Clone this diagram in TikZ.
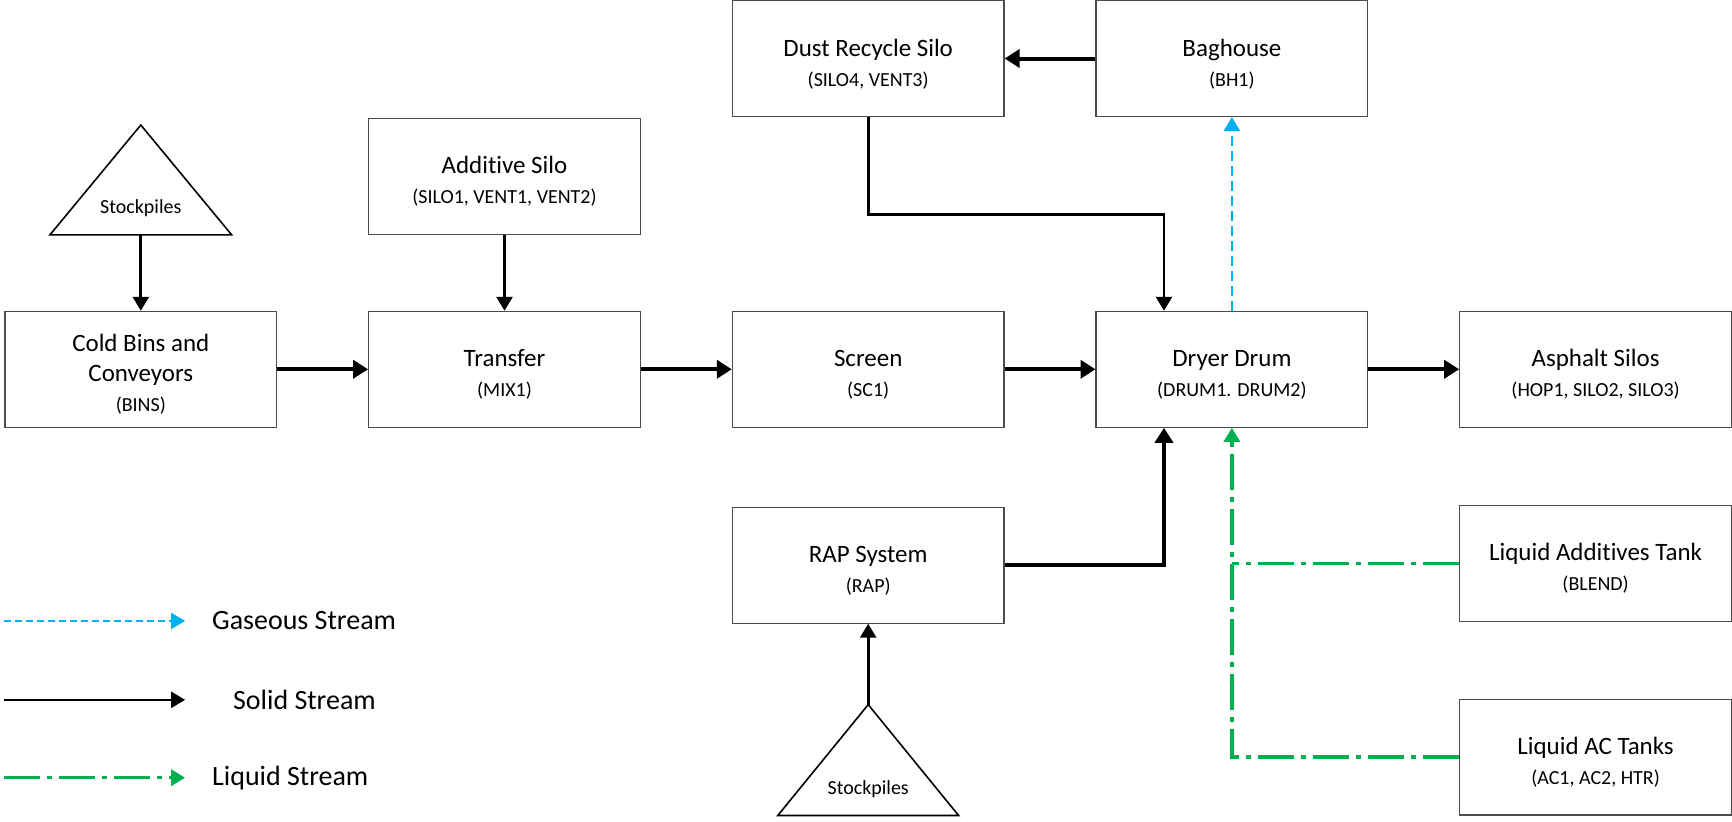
\documentclass[tikz,border=0pt]{standalone}
\usepackage{fontspec}
\setmainfont{Carlito}[Ligatures={NoCommon,NoContextual,NoRequired}]
\usetikzlibrary{arrows.meta, positioning}

\definecolor{gasblue}{HTML}{00B0F0}
\definecolor{liqgreen}{HTML}{00B050}
\newcommand\subtxt[1]{{\fontsize{10}{15}\selectfont #1}}
\newcommand\topstrut{\rule{0pt}{14pt}}

\begin{document}
\begin{tikzpicture}[
    block/.style={rectangle, draw=black!70, line width=0.6pt, minimum width=136pt,
                  minimum height=58pt, align=center, font=\fontsize{12.5}{15}\selectfont},
    arrow/.style={-{Triangle[length=7pt, width=8pt]}, line width=1.4pt},
    flow/.style={arrow, line width=2pt, -{Triangle[length=7.5pt, width=9pt]}},
    gas/.style={arrow, draw=gasblue, line width=1.3pt, dash pattern=on 5pt off 2.5pt},
    liquid/.style={arrow, draw=liqgreen, line width=1.7pt,
                   dash pattern=on 18pt off 3.5pt on 2.5pt off 3.5pt},
    pile/.style={draw, line width=0.8pt},
    pilelab/.style={font=\fontsize{10}{12}\selectfont},
    lab/.style={font=\fontsize{14}{16}\selectfont, anchor=west},
]

% ---------- Main row: aggregate path (left -> right) ----------
\node[block] (cold) at (0,0) {\topstrut Cold Bins and\\Conveyors\\\subtxt{(BINS)}};
\node[block, right=45.5pt of cold]     (transfer) {\topstrut Transfer\\\subtxt{(MIX1)}};
\node[block, right=45.5pt of transfer] (screen)   {\topstrut Screen\\\subtxt{(SC1)}};
\node[block, right=45.5pt of screen]   (dryer)    {\topstrut Dryer Drum\\\subtxt{(DRUM1. DRUM2)}};
\node[block, right=45.5pt of dryer]    (asphalt)  {\topstrut Asphalt Silos\\\subtxt{(HOP1, SILO2, SILO3)}};

% ---------- Upper boxes ----------
\node[block, above=38pt of transfer] (addsilo) {\topstrut Additive Silo\\\subtxt{(SILO1, VENT1, VENT2)}};
\node[block, above=97pt of screen]   (dust)    {\topstrut Dust Recycle Silo\\\subtxt{(SILO4, VENT3)}};
\node[block, above=97pt of dryer]    (bag)     {\topstrut Baghouse\\\subtxt{(BH1)}};

% ---------- Lower boxes ----------
\node[block, below=39.5pt of screen]  (rap)    {\topstrut RAP System\\\subtxt{(RAP)}};
\node[block, below=38.5pt of asphalt] (liqadd) {\topstrut Liquid Additives Tank\\\subtxt{(BLEND)}};
\node[block, below=38.5pt of liqadd]  (liqac)  {\topstrut Liquid AC Tanks\\\subtxt{(AC1, AC2, HTR)}};

\useasboundingbox ([xshift=-70.5pt, yshift=184pt]cold.center) rectangle ++(866pt,-410.5pt);

% ---------- Stockpiles ----------
\coordinate (pile1) at ([yshift=38pt]cold.north);
\draw[pile] ([xshift=-45.5pt]pile1) -- ([xshift=45.5pt]pile1) -- ([yshift=55pt]pile1) -- cycle;
\node[pilelab] (pile1lab) at ([yshift=13.5pt]pile1) {Stockpiles};

\coordinate (pile2) at ([yshift=-40.5pt]rap.south);
\draw[pile] (pile2) -- ++(-45.25pt,-55.5pt) -- ++(90.5pt,0) -- cycle;
\node[pilelab] (pile2lab) at ([yshift=-42.5pt]pile2) {Stockpiles};

% ---------- Solid flow ----------
\draw[arrow] (pile1)    -- (cold);
\draw[arrow] (addsilo)  -- (transfer);
\draw[flow]  (cold)     -- (transfer);
\draw[flow]  (transfer) -- (screen);
\draw[flow]  (screen)   -- (dryer);
\draw[flow]  (dryer)    -- (asphalt);
\draw[flow]  (bag)      -- (dust);
\draw[arrow] (dust.south) -- ++(0,-49pt) -| ([xshift=-34pt]dryer.north);
\draw[flow]  (rap.east) -| ([xshift=-34pt]dryer.south);
\draw[arrow] (pile2)    -- (rap);

% ---------- Gas and liquid ----------
\draw[gas] (dryer) -- (bag);
\draw[liquid, -] (liqadd.west) -- (liqadd.west -| dryer.south);
\draw[liquid] (liqac.west) -| (dryer.south);

% ---------- Legend ----------
\coordinate (gasA) at ([yshift=-126pt]cold.west);
\coordinate (gasB) at ([xshift=90.5pt]gasA);
\coordinate (solA) at ([yshift=-165.5pt]cold.west);
\coordinate (solB) at ([xshift=90.5pt]solA);
\coordinate (liqA) at ([yshift=-204.5pt]cold.west);
\coordinate (liqB) at ([xshift=90.5pt]liqA);
\draw[gas, line width=1pt, dash pattern=on 3.5pt off 2pt] (gasA) -- (gasB);
\draw[arrow, line width=1pt] (solA) -- (solB);
\draw[liquid] (liqA) -- (liqB);
\node[lab, right=10pt of gasB] (gaslab) {Gaseous Stream};
\node[lab, right=20.5pt of solB] (sollab) {Solid Stream};
\node[lab, right=10pt of liqB] (liqlab) {Liquid Stream};

\end{tikzpicture}
\end{document}
